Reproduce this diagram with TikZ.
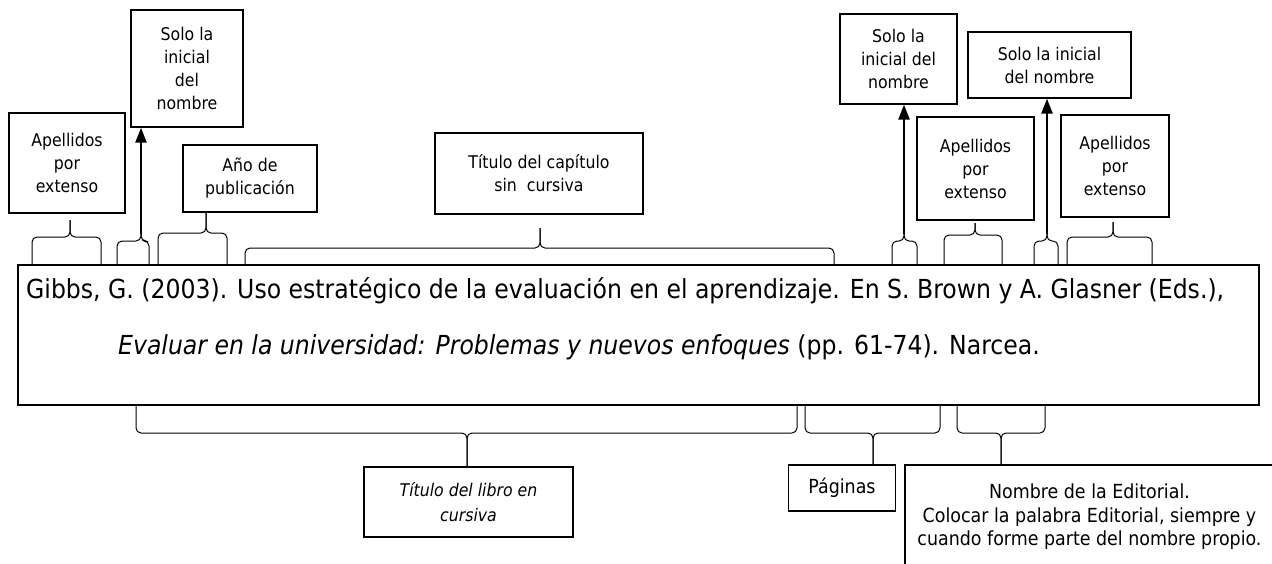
\documentclass[tikz,border=0pt]{standalone}
\usepackage{fontspec}
\setmainfont{DejaVu Sans Condensed}
\usetikzlibrary{arrows.meta}
\tikzset{
  etiqueta/.style={draw,line width=1.3pt,align=center,inner sep=0pt,
    font=\fontsize{17.5}{23}\selectfont},
  grande/.style={font=\fontsize{19.4}{23.5}\selectfont},
  cita/.style={inner sep=0pt,anchor=west,font=\fontsize{26.2}{30}\selectfont},
  llave/.style={line width=1pt,rounded corners=5pt},
  flecha/.style={-{Triangle[length=15pt,width=11pt]},line width=2.4pt}
}
\newcommand{\llavearriba}[6]{%
  \coordinate (#1) at (#4,#6);
  \draw[llave] (#2,264) |- (#4,#5) -- (#1);
  \draw[llave] (#3,264) |- (#4,#5) -- (#1);}
\newcommand{\llaveabajo}[6]{%
  \coordinate (#1) at (#4,#6);
  \draw[llave] (#2,406) |- (#4,#5) -- (#1);
  \draw[llave] (#3,406) |- (#4,#5) -- (#1);}
\begin{document}
\begin{tikzpicture}[x=1pt,y=-1pt]
\useasboundingbox (0,0) rectangle (1272,563);
\node[draw,line width=2.2pt,minimum width=1241pt,minimum height=140pt] (ref) at (638.5,335) {};
\node[cita] (linea1) at (26,291)
  {Gibbs, G. (2003). Uso estratégico de la evaluación en el aprendizaje. En S. Brown y A. Glasner (Eds.),};
\node[cita] (linea2) at (118,347)
  {\textit{Evaluar en la universidad: Problemas y nuevos enfoques} (pp. 61-74). Narcea.};

\node[etiqueta,minimum width=116pt,minimum height=100pt] (apA) at (67,163) {Apellidos\\por\\extenso};
\node[etiqueta,minimum width=112pt,minimum height=117pt] (iniA) at (187,68.5) {Solo la\\inicial\\del\\nombre};
\node[etiqueta,minimum width=134pt,minimum height=67pt] (anio) at (250,178.5) {Año de\\publicación};
\node[etiqueta,minimum width=208pt,minimum height=81pt] (titcap) at (539,173.5) {Título del capítulo\\sin~~cursiva};
\node[etiqueta,minimum width=117pt,minimum height=90pt] (iniB) at (898.5,59) {Solo la\\inicial del\\nombre};
\node[etiqueta,minimum width=117pt,minimum height=103pt] (apB) at (975.5,168.5) {Apellidos\\por\\extenso};
\node[etiqueta,minimum width=163pt,minimum height=66pt] (iniC) at (1049.5,65) {Solo la inicial\\del nombre};
\node[etiqueta,minimum width=108pt,minimum height=102pt] (apC) at (1115,166) {Apellidos\\por\\extenso};

\node[etiqueta,minimum width=209pt,minimum height=70pt,font=\fontsize{17.5}{25}\selectfont\itshape] (titlib) at (468.5,502) {Título del libro en\\cursiva};
\node[etiqueta,grande,minimum width=107pt,minimum height=46pt] (pags) at (842,488) {Páginas};
\node[etiqueta,grande,minimum width=369pt,minimum height=104pt] (edit) at (1089.5,517) {Nombre de la Editorial.\\Colocar la palabra Editorial, siempre y\\cuando forme parte del nombre propio.};

\llavearriba{tA}{32}{101}{70}{237}{220}
\llavearriba{tB}{117}{149}{141}{241}{234}
\llavearriba{tC}{158}{227}{206}{233}{213}
\llavearriba{tD}{245}{834}{540}{248}{228}
\llavearriba{tE}{892}{917}{904}{241}{234}
\llavearriba{tF}{944}{1002}{975}{235}{223}
\llavearriba{tG}{1034}{1058}{1047}{241}{234}
\llavearriba{tH}{1067}{1152}{1113}{237}{222}

\llaveabajo{bA}{136}{797}{467}{433}{467}
\llaveabajo{bB}{805}{940}{873}{433}{465}
\llaveabajo{bC}{957}{1045}{1001}{433}{465}

\draw[flecha] (tB) -- (tB |- iniA.south);
\draw[flecha] (tE) -- (tE |- iniB.south);
\draw[flecha] (tG) -- (tG |- iniC.south);
\end{tikzpicture}
\end{document}
